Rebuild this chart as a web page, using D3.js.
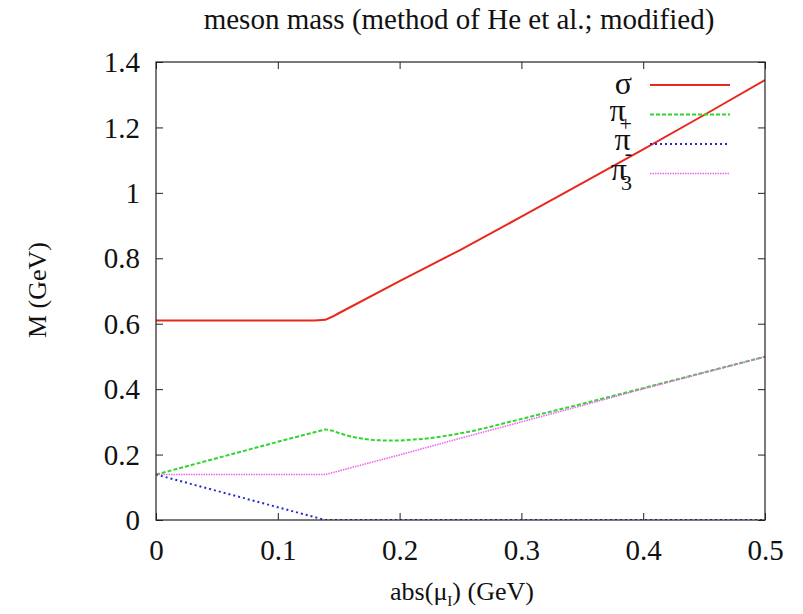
<!DOCTYPE html>
<html>
<head>
<meta charset="utf-8">
<script src="https://cdn.jsdelivr.net/npm/d3@7"></script>
<style>
  html, body { margin: 0; padding: 0; background: #fff; }
</style>
</head>
<body>
<svg id="chart" width="803" height="614"></svg>
<script>
// Isospin chemical potential |mu_I| (GeV)
const muSigma = [0, 0.05, 0.10, 0.130, 0.139, 0.145, 0.15, 0.20, 0.25, 0.30, 0.35, 0.40, 0.45, 0.50];
const sigmaMass = [0.610, 0.610, 0.610, 0.610, 0.612, 0.622, 0.632, 0.730, 0.826, 0.927, 1.030, 1.133, 1.238, 1.345];

const muPlus = [0, 0.05, 0.10, 0.139, 0.145, 0.15, 0.16, 0.17, 0.18, 0.19, 0.20, 0.22, 0.24, 0.26, 0.28, 0.30, 0.35, 0.40, 0.45, 0.50];
const piPlusMass = [0.139, 0.189, 0.239, 0.277, 0.273, 0.266, 0.255, 0.248, 0.244, 0.243, 0.243, 0.248, 0.258, 0.272, 0.290, 0.309, 0.355, 0.403, 0.451, 0.499];

const muMinus = [0, 0.139, 0.50];
const piMinusMass = [0.139, 0.0, 0.0];

const muThree = [0, 0.139, 0.20, 0.25, 0.30, 0.35, 0.40, 0.45, 0.50];
const piThreeMass = [0.139, 0.139, 0.199, 0.250, 0.300, 0.350, 0.401, 0.450, 0.499];

const xTicks = [0, 0.1, 0.2, 0.3, 0.4, 0.5];
const yTicks = [0, 0.2, 0.4, 0.6, 0.8, 1.0, 1.2, 1.4];

const series = [
  { name: "σ",  sub: "",  mu: muSigma, m: sigmaMass,   color: "#e8281c", width: 2,   dash: null },
  { name: "π",  sub: "+", mu: muPlus,  m: piPlusMass,  color: "#2ed62e", width: 2,   dash: "4,2" },
  { name: "π",  sub: "-", mu: muMinus, m: piMinusMass, color: "#2828d0", width: 2,   dash: "2,3" },
  { name: "π",  sub: "3", mu: muThree, m: piThreeMass, color: "#ee66ee", width: 1.6, dash: "1.5,1" }
];

const SERIF = "'Liberation Serif', 'Times New Roman', Times, 'DejaVu Serif', serif";

const svg = d3.select("#chart");
const margin = { left: 156, right: 38, top: 62, bottom: 94 };
const W = 803, H = 614;

const x = d3.scaleLinear().domain([0, 0.5]).range([margin.left, W - margin.right]);
const y = d3.scaleLinear().domain([0, 1.4]).range([H - margin.bottom, margin.top]);

// Title
svg.append("text")
  .attr("x", 459).attr("y", 29)
  .attr("text-anchor", "middle")
  .style("font-family", SERIF)
  .style("font-size", "29px")
  .attr("fill", "#111")
  .text("meson mass (method of He et al.; modified)");

// Curves (clipped to the frame)
svg.append("clipPath").attr("id", "plotclip")
  .append("rect")
  .attr("x", x(0)).attr("y", y(1.4))
  .attr("width", x(0.5) - x(0)).attr("height", y(0) - y(1.4));

const line = d3.line().x(d => x(d[0])).y(d => y(d[1]));
const curves = svg.append("g").attr("clip-path", "url(#plotclip)");
series.forEach(s => {
  const pts = s.mu.map((v, i) => [v, s.m[i]]);
  const p = curves.append("path")
    .datum(pts)
    .attr("d", line)
    .attr("fill", "none")
    .attr("stroke", s.color)
    .attr("stroke-width", s.width)
    .attr("stroke-linejoin", "round");
  if (s.dash) p.attr("stroke-dasharray", s.dash);
});

// Axes with inward ticks, mirrored on the opposite sides
const tick = 7;
const bottomAxis = d3.axisBottom(x).tickValues(xTicks).tickSizeInner(-tick).tickSizeOuter(0)
  .tickPadding(19).tickFormat(d => d === 0 ? "0" : d3.format(".1f")(d));
const leftAxis = d3.axisLeft(y).tickValues(yTicks).tickSizeInner(-tick).tickSizeOuter(0)
  .tickPadding(16).tickFormat(d => d === 0 ? "0" : (d === 1 ? "1" : d3.format(".1f")(d)));
const topAxis = d3.axisTop(x).tickValues(xTicks).tickSizeInner(-tick).tickSizeOuter(0).tickFormat("");
const rightAxis = d3.axisRight(y).tickValues(yTicks).tickSizeInner(-tick).tickSizeOuter(0).tickFormat("");

function styleAxis(g) {
  g.attr("font-family", SERIF).attr("font-size", 29);
  g.select(".domain").remove();
  g.selectAll(".tick line").attr("stroke", "#222").attr("stroke-width", 1);
  g.selectAll(".tick text")
    .attr("font-family", SERIF)
    .style("font-family", SERIF)
    .style("font-size", "29px")
    .attr("fill", "#111");
}

svg.append("g").attr("transform", `translate(0,${y(0)})`).call(bottomAxis).call(styleAxis);
svg.append("g").attr("transform", `translate(${x(0)},0)`).call(leftAxis).call(styleAxis)
  .selectAll(".tick text").attr("dy", "0.33em");
svg.append("g").attr("transform", `translate(0,${y(1.4)})`).call(topAxis).call(styleAxis);
svg.append("g").attr("transform", `translate(${x(0.5)},0)`).call(rightAxis).call(styleAxis);

// Frame
svg.append("rect")
  .attr("x", x(0)).attr("y", y(1.4))
  .attr("width", x(0.5) - x(0)).attr("height", y(0) - y(1.4))
  .attr("fill", "none").attr("stroke", "#222").attr("stroke-width", 1.2);

// Axis titles
const xl = svg.append("text")
  .attr("x", 462).attr("y", 600)
  .attr("text-anchor", "middle")
  .style("font-family", SERIF)
  .style("font-size", "26px")
  .attr("fill", "#111");
xl.append("tspan").text("abs(μ");
xl.append("tspan").attr("dy", 6).style("font-size", "15px").text("I");
xl.append("tspan").attr("dy", -6).text(") (GeV)");

svg.append("text")
  .attr("transform", "translate(46,290) rotate(-90)")
  .attr("text-anchor", "middle")
  .style("font-family", SERIF)
  .style("font-size", "26px")
  .attr("fill", "#111")
  .text("M (GeV)");

// Legend: symbol name right-aligned, subscript tucked under its right edge
const legY0 = 85, legDy = 29.5;
const legend = svg.append("g");
series.forEach((s, i) => {
  const ly = legY0 + i * legDy;
  const t = legend.append("text")
    .attr("x", 632).attr("y", s.sub ? ly + 6 : ly + 9)
    .attr("text-anchor", "end")
    .style("font-family", SERIF)
    .style("font-size", "32px")
    .attr("fill", "#111");
  t.append("tspan").text(s.name);
  if (s.sub) {
    t.append("tspan").attr("dx", -6).attr("dy", 10).style("font-size", "22px").text(s.sub);
  }
  const l = legend.append("line")
    .attr("x1", 650).attr("x2", 730)
    .attr("y1", ly).attr("y2", ly)
    .attr("stroke", s.color).attr("stroke-width", s.width);
  if (s.dash) l.attr("stroke-dasharray", s.dash);
});
</script>
</body>
</html>
